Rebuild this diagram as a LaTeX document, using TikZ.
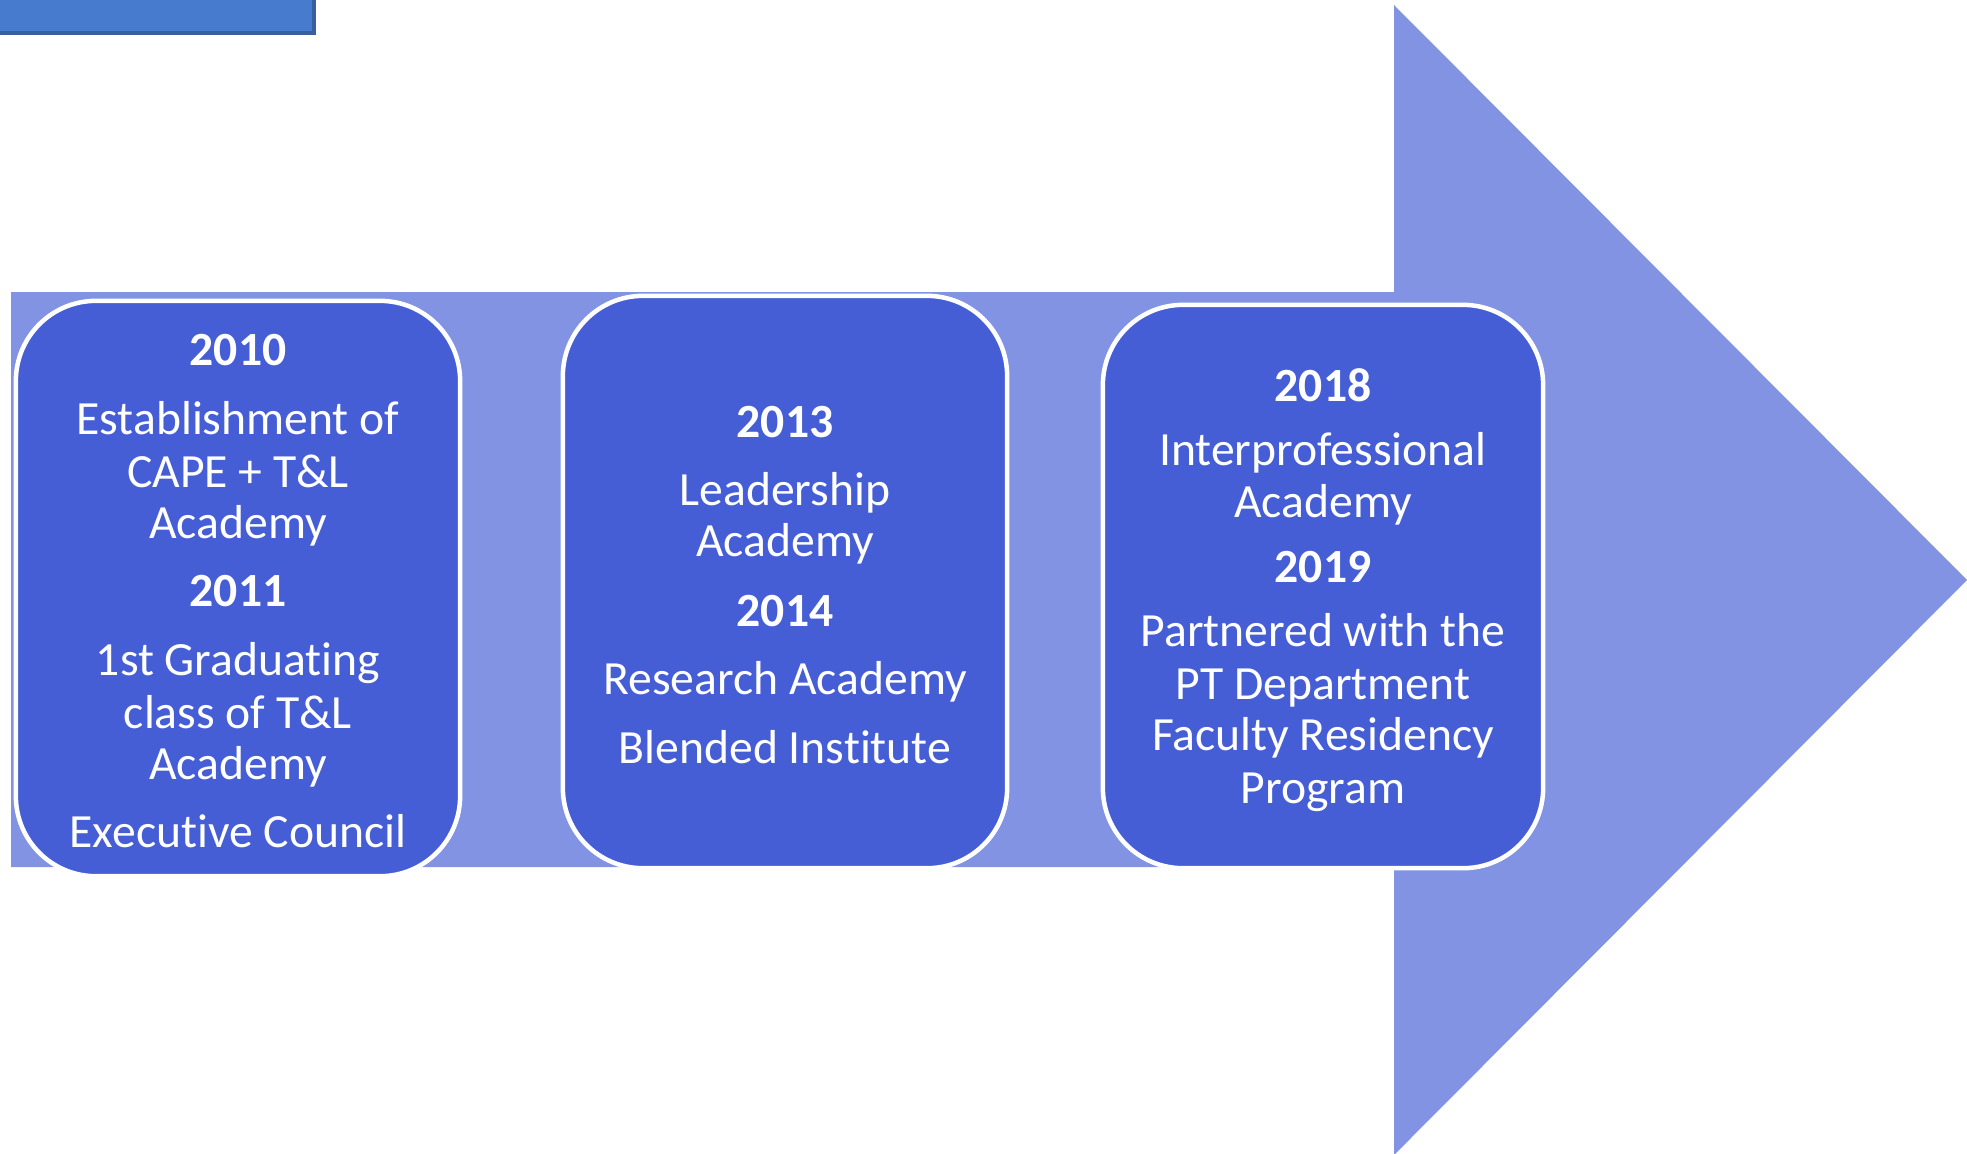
\documentclass[tikz,border=0pt]{standalone}
\usepackage{fontspec}
\setmainfont{Carlito}[Ligatures={NoCommon}]
\definecolor{arrowfill}{HTML}{8193E2}
\definecolor{boxfill}{HTML}{455ED6}
\definecolor{topfill}{HTML}{477BCE}
\definecolor{topedge}{HTML}{3A5E9E}
\tikzset{
  eventbox/.style={draw=white, line width=0.045cm, fill=boxfill, rounded corners=0.8cm, inner sep=0pt},
  linetxt/.style={text=white, inner sep=0pt, anchor=base, font=\fontsize{13.55pt}{15pt}\selectfont},
  yeartxt/.style={linetxt, font=\fontsize{13.55pt}{15pt}\selectfont\bfseries},
}
\begin{document}
\begin{tikzpicture}[x=0.01cm,y=-0.01cm]
\useasboundingbox (0,0) rectangle (1967,1153);
% big arrow
\fill[arrowfill] (11,292) -- (1394,292) -- (1394,5) -- (1967,580) -- (1394,1155) -- (1394,867) -- (11,867) -- cycle;
% top-left bar
\draw[fill=topfill, draw=topedge, line width=0.035cm] (-20,-20) rectangle (314,33);
% boxes
\node[eventbox, minimum width=4.44cm, minimum height=5.75cm] (b1) at (238,588.5) {};
\node[eventbox, minimum width=4.44cm, minimum height=5.72cm] (b2) at (785,582) {};
\node[eventbox, minimum width=4.40cm, minimum height=5.63cm] (b3) at (1323,586.5) {};
% box 1 text
\node[yeartxt] (t10) at (238,365) {2010};
\node[linetxt] (t11) at (238,434) {Establishment of};
\node[linetxt] (t12) at (238,487) {CAPE + T\&L};
\node[linetxt] (t13) at (238,538) {Academy};
\node[yeartxt] (t14) at (238,606) {2011};
\node[linetxt] (t15) at (238,675) {1st Graduating};
\node[linetxt] (t16) at (238,728) {class of T\&L};
\node[linetxt] (t17) at (238,779) {Academy};
\node[linetxt] (t18) at (238,847) {Executive Council};
% box 2 text
\node[yeartxt] (t20) at (785,437) {2013};
\node[linetxt] (t21) at (785,505) {Leadership};
\node[linetxt] (t22) at (785,556) {Academy};
\node[yeartxt] (t23) at (785,626) {2014};
\node[linetxt] (t24) at (785,694) {Research Academy};
\node[linetxt] (t25) at (785,763) {Blended Institute};
% box 3 text
\node[yeartxt] (t30) at (1323,401) {2018};
\node[linetxt] (t31) at (1323,465) {Interprofessional};
\node[linetxt] (t32) at (1323,517) {Academy};
\node[yeartxt] (t33) at (1323,582) {2019};
\node[linetxt] (t34) at (1323,646) {Partnered with the};
\node[linetxt] (t35) at (1323,699) {PT Department};
\node[linetxt] (t36) at (1323,750) {Faculty Residency};
\node[linetxt] (t37) at (1323,803) {Program};
\end{tikzpicture}
\end{document}
